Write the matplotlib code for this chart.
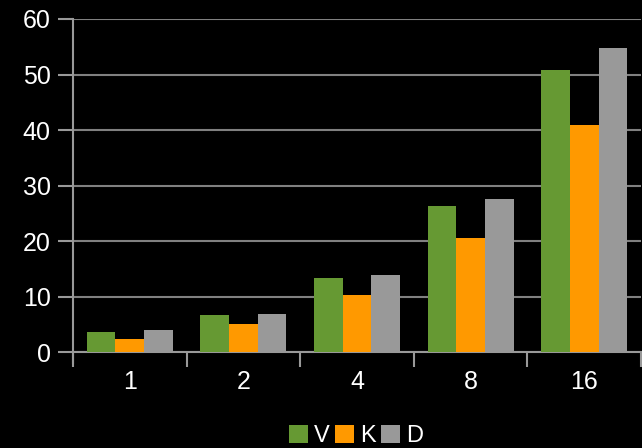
import matplotlib
matplotlib.use("Agg")
import matplotlib.pyplot as plt
import numpy as np

categories = ["1", "2", "4", "8", "16"]
series_names = ["V", "K", "D"]
v_vals = [3.7, 6.7, 13.4, 26.4, 50.9]
k_vals = [2.4, 5.1, 10.3, 20.6, 41.0]
d_vals = [4.0, 6.9, 13.9, 27.6, 54.8]
colors = ["#669933", "#FF9900", "#999999"]

plt.rcParams['font.family'] = ['Liberation Sans', 'DejaVu Sans']

fig = plt.figure(figsize=(6.42, 4.48), dpi=100, facecolor="black")
W, H = 642, 448
ax = fig.add_axes([73 / W, (H - 352.3) / H, (641 - 73) / W, (352.3 - 19) / H])
ax.set_facecolor("black")

x = np.arange(len(categories))
bw = 0.252
for i, (vals, c, name) in enumerate(zip([v_vals, k_vals, d_vals], colors, series_names)):
    ax.bar(x + (i - 1) * bw, vals, width=bw, color=c, label=name, zorder=3)

ax.set_xlim(-0.5, len(categories) - 0.5)
ax.set_ylim(0, 60)
ax.set_yticks(range(0, 61, 10))
ax.yaxis.grid(True, color="#808080", linewidth=1.5, zorder=0)
ax.set_axisbelow(True)

ax.set_xticks(x)
ax.set_xticklabels(categories)
ax.set_xticks(np.arange(-0.5, len(categories), 1), minor=True)
ax.tick_params(axis="x", which="major", length=0, pad=13, labelsize=18, labelcolor="white")
ax.tick_params(axis="x", which="minor", length=11, width=1.5, color="#999999")
ax.tick_params(axis="y", length=11, width=1.5, color="#999999", labelsize=18, labelcolor="white", pad=5)

for s in ["top", "right"]:
    ax.spines[s].set_visible(False)
ax.spines["left"].set_color("#999999")
ax.spines["left"].set_linewidth(1.5)
ax.spines["bottom"].set_color("#999999")
ax.spines["bottom"].set_linewidth(1.5)
ax.spines["left"].set_bounds(-2, 60)

leg = fig.legend(loc="center", bbox_to_anchor=(356 / W, (H - 436) / H), ncol=3, frameon=False,
                 fontsize=17, labelcolor="white", handlelength=0.8, handleheight=0.8,
                 handletextpad=0.25, columnspacing=0.25, borderpad=0)

fig.savefig("out.png", dpi=100, facecolor="black")
